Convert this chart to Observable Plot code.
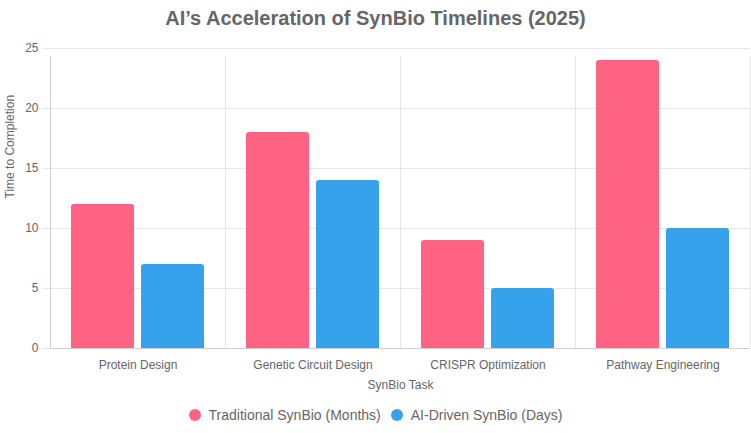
<!DOCTYPE html>
<html>
<head>
<meta charset="utf-8">
<script src="https://cdn.jsdelivr.net/npm/d3@7"></script>
<script src="https://cdn.jsdelivr.net/npm/@observablehq/plot@0.6"></script>
<style>
  html, body { margin: 0; padding: 0; background: #fff; }
  body { width: 751px; height: 433px; overflow: hidden; font-family: "Liberation Sans", Arial, Helvetica, sans-serif; color: #666; }
  #title { height: 36px; line-height: 36px; text-align: center; font-size: 20px; font-weight: bold; color: #666; }
  #legend { display: flex; justify-content: center; align-items: center; height: 37px; font-size: 14px; color: #666; padding-left: 0px; }
  .item { display: flex; align-items: center; margin: 0 5px; }
  .dot { width: 12px; height: 12px; border-radius: 50%; margin-right: 8px; }
</style>
</head>
<body>
<div id="title">AI’s Acceleration of SynBio Timelines (2025)</div>
<div id="chart"></div>
<div id="legend"></div>
<script>
const categories = ["Protein Design", "Genetic Circuit Design", "CRISPR Optimization", "Pathway Engineering"];
const traditionalMonths = [12, 18, 9, 24];
const aiDrivenDays = [7, 14, 5, 10];
const seriesNames = ["Traditional SynBio (Months)", "AI-Driven SynBio (Days)"];
const seriesColors = ["#ff6384", "#36a2eb"];
const yTicks = [0, 5, 10, 15, 20, 25];

const trad = categories.map((c, i) => ({cat: c, value: traditionalMonths[i]}));
const ai = categories.map((c, i) => ({cat: c, value: aiDrivenDays[i]}));

const W = 751, H = 360;
const plot = Plot.plot({
  width: W,
  height: H,
  marginLeft: 50,
  marginRight: 1,
  marginTop: 12,
  marginBottom: 48,
  style: {fontFamily: "'Liberation Sans', Arial, Helvetica, sans-serif", fontSize: "12px", color: "#666", background: "#fff"},
  x: {domain: categories, padding: 0, label: null},
  y: {domain: [0, 25], label: null},
  marks: [
    Plot.ruleY(yTicks, {stroke: "#e6e6e6", strokeOpacity: 1, insetLeft: -8}),
    Plot.ruleX(categories, {x: d => d, dx: -87.5, y1: 0, y2: 25, stroke: "#e6e6e6", insetBottom: -8}),
    Plot.ruleX(categories, {x: d => d, dx: 87.5, y1: 0, y2: 25, stroke: "#e6e6e6", insetBottom: -8}),
    Plot.barY(trad, {x: "cat", y: "value", fill: seriesColors[0], insetLeft: 21, insetRight: 91, rx: 3, insetBottom: -4, clip: true}),
    Plot.barY(ai, {x: "cat", y: "value", fill: seriesColors[1], insetLeft: 91, insetRight: 21, rx: 3, insetBottom: -4, clip: true}),
    Plot.ruleY([0], {stroke: "#cfcfcf"}),
    Plot.ruleX([categories[0]], {x: d => d, dx: -87.5, y1: 0, y2: 25, stroke: "#cfcfcf", insetBottom: -8}),
    Plot.axisY({ticks: yTicks, tickSize: 0, tickPadding: 12, fill: "#666", label: null}),
    Plot.axisX({tickSize: 0, tickPadding: 12, fill: "#666", label: null}),
    Plot.text(["SynBio Task"], {frameAnchor: "bottom", lineAnchor: "middle", dy: 37, fill: "#666", fontSize: 12}),
    Plot.text(["Time to Completion"], {frameAnchor: "left", dx: -40, rotate: -90, fill: "#666", fontSize: 12})
  ]
});
document.getElementById("chart").appendChild(plot);

const legend = document.getElementById("legend");
seriesNames.forEach((name, i) => {
  const item = document.createElement("div");
  item.className = "item";
  const dot = document.createElement("span");
  dot.className = "dot";
  dot.style.background = seriesColors[i];
  const label = document.createElement("span");
  label.textContent = name;
  item.appendChild(dot);
  item.appendChild(label);
  legend.appendChild(item);
});
</script>
</body>
</html>
